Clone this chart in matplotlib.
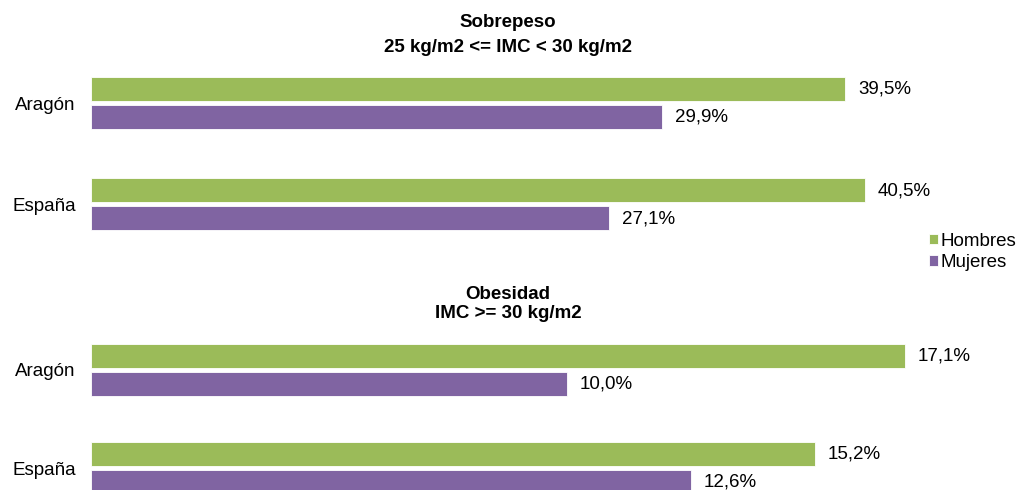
import matplotlib
matplotlib.use("Agg")
import matplotlib.pyplot as plt
import numpy as np

plt.rcParams['font.family'] = ['Liberation Sans', 'DejaVu Sans']

categories = ["Aragón", "España"]
series = ["Hombres", "Mujeres"]
sobrepeso_hombres = [39.5, 40.5]
sobrepeso_mujeres = [29.9, 27.1]
obesidad_hombres = [17.1, 15.2]
obesidad_mujeres = [10.0, 12.6]
title_top = "Sobrepeso\n25 kg/m2 <= IMC < 30 kg/m2"
title_bottom = "Obesidad\nIMC >= 30 kg/m2"

GREEN = "#9BBB59"
PURPLE = "#8064A2"
FS = 13.5

W, H = 1021, 490
fig = plt.figure(figsize=(W / 100, H / 100), dpi=100)


def make_axes(top_center_px, spacing_px, px_per_unit, xmax):
    y_top = top_center_px - spacing_px * 0.5
    y_bot = top_center_px + spacing_px * 1.5
    left = 91 / W
    width = px_per_unit * xmax / W
    ax = fig.add_axes([left, 1 - y_bot / H, width, (y_bot - y_top) / H])
    ax.set_xlim(0, xmax)
    ax.set_ylim(1.5, -0.5)
    return ax


def draw(ax, men, women, spacing_px):
    y = np.arange(len(categories))
    bh = 24 / spacing_px
    off = 14 / spacing_px
    b1 = ax.barh(y - off, men, height=bh, color=GREEN,
                 edgecolor="white", linewidth=0.6, label=series[0])
    b2 = ax.barh(y + off, women, height=bh, color=PURPLE,
                 edgecolor="white", linewidth=0.6, label=series[1])
    for bars, vals in ((b1, men), (b2, women)):
        for r, v in zip(bars, vals):
            ax.annotate(f"{v:.1f}%".replace(".", ","),
                        (r.get_width(), r.get_y() + r.get_height() / 2),
                        xytext=(13 * 0.72, 0), textcoords="offset points",
                        ha="left", va="center", fontsize=FS, color="#000000")
    ax.set_yticks(y)
    ax.set_yticklabels(categories, fontsize=FS)
    ax.tick_params(axis="y", length=0, pad=11)
    ax.set_xticks([])
    for s in ax.spines.values():
        s.set_visible(False)
    return b1, b2


ax1 = make_axes(103, 101.5, 19.1, 48)
h1, h2 = draw(ax1, sobrepeso_hombres, sobrepeso_mujeres, 101.5)

ax2 = make_axes(370, 98, 47.6, 20)
draw(ax2, obesidad_hombres, obesidad_mujeres, 98)

fig.text(508 / W, 1 - 35 / H, title_top, ha="center", va="center",
         fontsize=FS, fontweight="bold", linespacing=1.6)
fig.text(508 / W, 1 - 304 / H, title_bottom, ha="center", va="center",
         fontsize=FS, fontweight="bold", linespacing=1.2)

fig.legend([h1, h2], series, loc="center left",
           bbox_to_anchor=(929 / W, 1 - 252 / H), frameon=False,
           fontsize=FS, handlelength=0.5, handleheight=0.5,
           handletextpad=0.1, labelspacing=0.25, borderpad=0,
           borderaxespad=0)

fig.savefig("out.png", dpi=100)
